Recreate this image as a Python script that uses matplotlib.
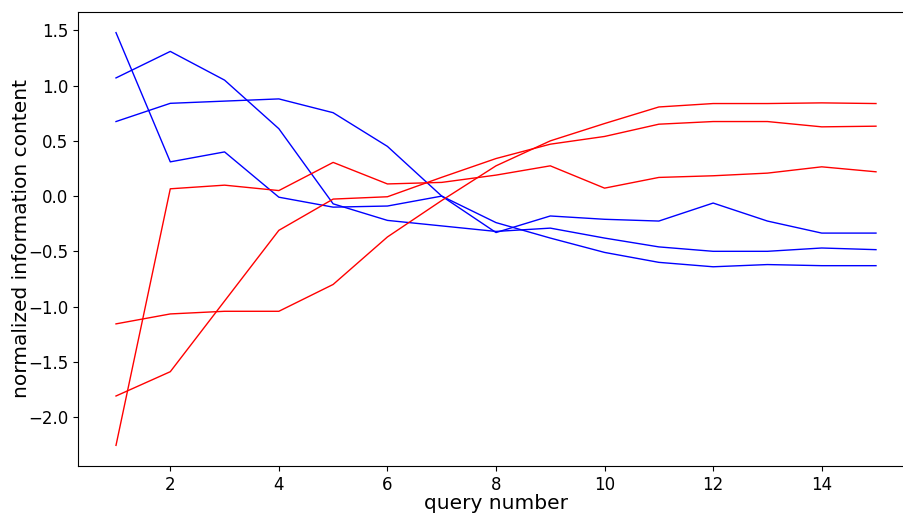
import numpy as np
import matplotlib
matplotlib.use('Agg')
import matplotlib.pyplot as plt

# query numbers
queries = list(range(1, 16))

# blue series
blue_a = [1.48, 0.31, 0.40, -0.01, -0.10, -0.09, 0.00, -0.24, -0.38, -0.51, -0.60, -0.64, -0.62, -0.63, -0.63]
blue_b = [1.07, 1.31, 1.05, 0.61, -0.07, -0.22, -0.27, -0.32, -0.29, -0.38, -0.46, -0.50, -0.50, -0.47, -0.485]
blue_c = [0.675, 0.84, 0.86, 0.88, 0.755, 0.45, 0.00, -0.33, -0.18, -0.21, -0.226, -0.063, -0.226, -0.335, -0.335]

# red series
red_d = [-1.81, -1.59, -0.95, -0.31, -0.027, -0.006, 0.17, 0.34, 0.47, 0.54, 0.651, 0.675, 0.675, 0.627, 0.633]
red_e = [-2.257, 0.066, 0.099, 0.05, 0.305, 0.11, 0.124, 0.19, 0.274, 0.072, 0.169, 0.184, 0.208, 0.265, 0.22]
red_f = [-1.157, -1.067, -1.043, -1.043, -0.80, -0.37, -0.04, 0.274, 0.50, 0.657, 0.807, 0.838, 0.838, 0.844, 0.838]

fig = plt.figure(figsize=(9.04, 5.14), dpi=100)
# axes runs past the right edge of the figure, like the cropped original
ax = fig.add_axes([78 / 904, 48 / 514, 836 / 904, 454 / 514])

for s in (blue_a, blue_b, blue_c):
    ax.plot(queries, s, color='blue', linewidth=1.0)
for s in (red_d, red_e, red_f):
    ax.plot(queries, s, color='red', linewidth=1.0)

ax.set_xticks([2, 4, 6, 8, 10, 12, 14])
ax.set_yticks(np.arange(-2.0, 1.51, 0.5))
ax.tick_params(labelsize=12)
ax.set_xlabel('query number', fontsize=14.5, labelpad=0)
ax.set_ylabel('normalized information content', fontsize=14.5, labelpad=-2)

fig.savefig('out.png', dpi=100)
